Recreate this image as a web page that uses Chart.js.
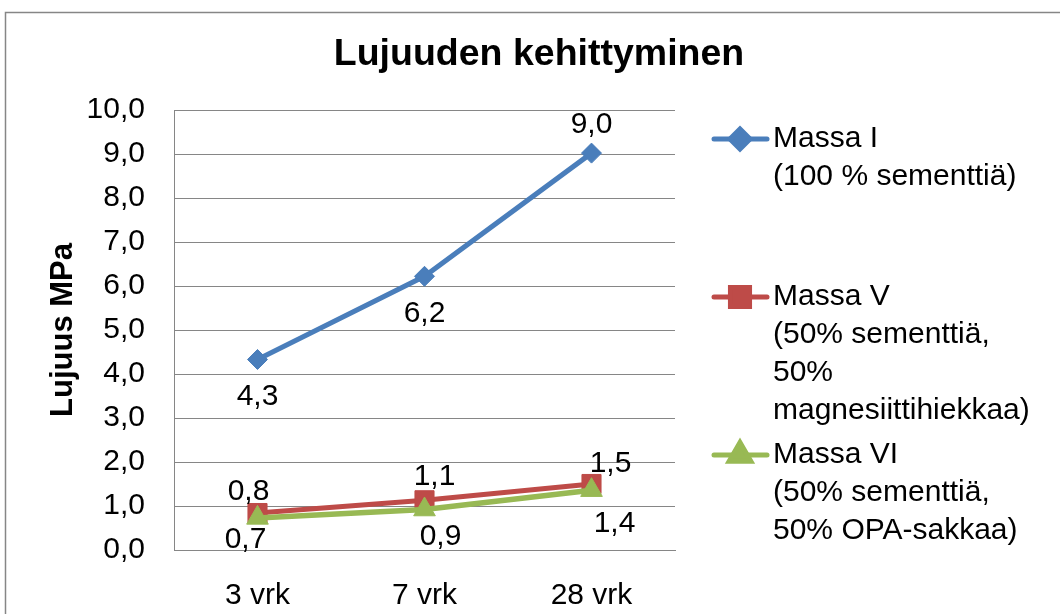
<!DOCTYPE html>
<html>
<head>
<meta charset="utf-8">
<script src="https://cdn.jsdelivr.net/npm/chart.js@4.4.0/dist/chart.umd.min.js"></script>
<style>
    body { margin: 0; background: #fff; }
    #wrap { position: relative; width: 1060px; height: 614px; }
</style>
</head>
<body>
<div id="wrap"><canvas id="myChart"></canvas></div>
<script>
const days = ['3 vrk', '7 vrk', '28 vrk'];
const massaI = [4.33, 6.22, 9.02];
const massaV = [0.84, 1.13, 1.5];
const massaVI = [0.73, 0.92, 1.36];
const yTicks = [0, 1, 2, 3, 4, 5, 6, 7, 8, 9, 10];

const legendLines = [
    ['Massa I', '(100 % sementtiä)'],
    ['Massa V', '(50% sementtiä,', '50%', 'magnesiittihiekkaa)'],
    ['Massa VI', '(50% sementtiä,', '50% OPA-sakkaa)']
];

// label offsets from the point (dx, dy)
const labelOffsets = [
    [[0, 37], [0, 37], [0, -28]],
    [[-9, -21], [10, -24], [19, -20]],
    [[-12, 22], [16, 27], [23, 34]]
];

const fontFamily = '"Liberation Sans", Arial, sans-serif';
const comma = v => v.toFixed(1).replace('.', ',');

const frame = {
    id: 'frame',
    beforeDraw(chart) {
        const c = chart.ctx;
        c.save();
        c.fillStyle = '#fff';
        c.fillRect(0, 0, chart.width, chart.height);
        c.strokeStyle = '#868686';
        c.lineWidth = 1.5;
        c.strokeRect(5.5, 12.5, 1080, 640);
        c.restore();
    }
};

const valueLabels = {
    id: 'valueLabels',
    afterDatasetsDraw(chart) {
        const c = chart.ctx;
        c.save();
        c.font = '30px ' + fontFamily;
        c.fillStyle = '#000';
        c.textAlign = 'center';
        c.textBaseline = 'middle';
        chart.data.datasets.forEach((ds, i) => {
            chart.getDatasetMeta(i).data.forEach((pt, j) => {
                const off = labelOffsets[i][j];
                c.fillText(comma(ds.data[j]), pt.x + off[0], pt.y + off[1]);
            });
        });
        c.restore();
    }
};

const sideLegend = {
    id: 'sideLegend',
    afterDraw(chart) {
        const c = chart.ctx;
        const tops = [139, 297, 455];
        c.save();
        chart.data.datasets.forEach((ds, i) => {
            const y = tops[i];
            c.strokeStyle = ds.borderColor;
            c.lineWidth = 5;
            c.lineCap = 'round';
            c.beginPath();
            c.moveTo(714, y);
            c.lineTo(767, y);
            c.stroke();
            c.fillStyle = ds.backgroundColor;
            Chart.helpers.drawPoint(c, {
                pointStyle: ds.pointStyle,
                radius: ds.pointRadius,
                borderWidth: 1,
                rotation: 0
            }, 740, y);
            c.font = '30px ' + fontFamily;
            c.fillStyle = '#000';
            c.textAlign = 'left';
            c.textBaseline = 'middle';
            legendLines[i].forEach((t, k) => {
                c.fillText(t, 773, y + k * 38);
            });
        });
        c.restore();
    }
};

const ctx = document.getElementById('myChart').getContext('2d');
const myChart = new Chart(ctx, {
    type: 'line',
    data: {
        labels: days,
        datasets: [{
            label: 'Massa I',
            data: massaI,
            order: 3,
            borderColor: '#4A7EBB',
            backgroundColor: '#4A7EBB',
            borderWidth: 5,
            pointStyle: 'rectRot',
            pointRadius: 10,
            pointBorderWidth: 1
        }, {
            label: 'Massa V',
            data: massaV,
            order: 2,
            borderColor: '#BE4B48',
            backgroundColor: '#BE4B48',
            borderWidth: 5,
            pointStyle: 'rect',
            pointRadius: 13.5,
            pointBorderWidth: 1
        }, {
            label: 'Massa VI',
            data: massaVI,
            order: 1,
            borderColor: '#98B954',
            backgroundColor: '#98B954',
            borderWidth: 5.5,
            pointStyle: 'triangle',
            pointRadius: 12.5,
            pointBorderWidth: 1
        }]
    },
    options: {
        responsive: true,
        maintainAspectRatio: false,
        animation: false,
        layout: {
            padding: { top: 12, left: 18, right: 0, bottom: 0 }
        },
        plugins: {
            legend: { display: false },
            tooltip: { enabled: false },
            title: {
                display: true,
                text: 'Lujuuden kehittyminen',
                color: '#000',
                font: { family: fontFamily, size: 37.5, weight: 'bold', lineHeight: 1.2 },
                padding: { top: 20, bottom: 33 }
            }
        },
        scales: {
            x: {
                offset: true,
                grid: { display: false },
                border: { display: true, color: '#868686', width: 1 },
                ticks: {
                    color: '#000',
                    padding: 20,
                    font: { family: fontFamily, size: 30 }
                },
                afterFit(scale) {
                    scale.height = 64;
                }
            },
            y: {
                min: 0,
                max: 10,
                afterBuildTicks(scale) {
                    scale.ticks = yTicks.map(v => ({ value: v }));
                },
                grid: { color: '#868686', drawTicks: false },
                border: { display: true, color: '#868686', width: 1 },
                ticks: {
                    color: '#000',
                    padding: 29,
                    font: { family: fontFamily, size: 30 },
                    callback: v => comma(v)
                },
                title: {
                    display: true,
                    text: 'Lujuus MPa',
                    color: '#000',
                    font: { family: fontFamily, size: 31, weight: 'bold', lineHeight: 1.2 },
                    padding: { top: 27, bottom: 0 }
                },
                afterFit(scale) {
                    scale.width = 156;
                }
            },
            // empty right-hand axis that reserves the room for the legend
            side: {
                position: 'right',
                min: 0,
                max: 10,
                grid: { display: false },
                border: { display: false },
                ticks: { display: false },
                afterFit(scale) {
                    scale.width = 385;
                }
            }
        }
    },
    plugins: [frame, valueLabels, sideLegend]
});
</script>
</body>
</html>
